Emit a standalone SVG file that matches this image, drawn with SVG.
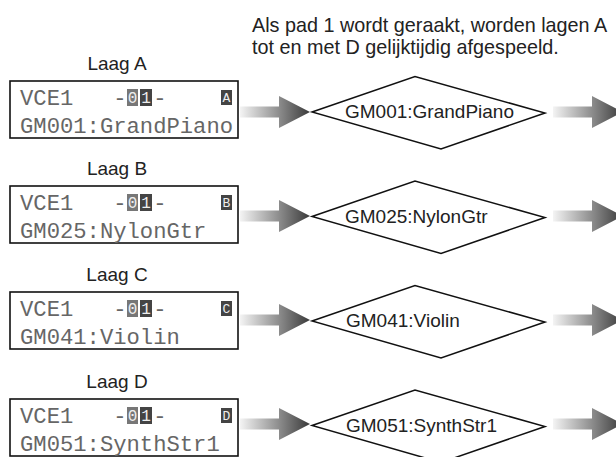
<svg xmlns="http://www.w3.org/2000/svg" xmlns:xlink="http://www.w3.org/1999/xlink" width="616" height="457" viewBox="0 0 616 457">
<style>
.lbl{font-family:"Liberation Sans",Arial,sans-serif;font-size:19px;fill:#222}
.cap{font-family:"Liberation Sans",Arial,sans-serif;font-size:19.8px;fill:#222}
.lcd{font-family:"Liberation Mono","DejaVu Sans Mono",monospace;font-size:22.2px;fill:#666}
.inv{font-family:"Liberation Mono","DejaVu Sans Mono",monospace;font-size:16px;fill:#eee;text-anchor:middle}
.sm{font-size:13px}
.box{fill:#fff;stroke:#111;stroke-width:1.6}
.dia{fill:#fff;stroke:#111;stroke-width:1.5;stroke-linejoin:miter}
.blk{fill:#444}
.blk0{fill:#777}
</style>
<defs>
<linearGradient id="g" x1="0" y1="0" x2="1" y2="0">
<stop offset="0" stop-color="#f4f4f4"/>
<stop offset="0.55" stop-color="#8e8e8e"/>
<stop offset="1" stop-color="#3a3a3a"/>
</linearGradient>
<path id="arr" d="M0,-5.5 H39 V-16 L70,0 L39,16 V5.5 H0 Z" fill="url(#g)"/>
</defs>
<rect width="616" height="457" fill="#fff"/>
<g id="caption">
<text class="cap" x="252" y="32">Als pad 1 wordt geraakt, worden lagen A</text>
<text class="cap" x="252" y="54">tot en met D gelijktijdig afgespeeld.</text>
</g>
<g id="connectors">
<use xlink:href="#arr" transform="translate(240,112)"/>
<use xlink:href="#arr" transform="translate(240,216)"/>
<use xlink:href="#arr" transform="translate(240,320)"/>
<use xlink:href="#arr" transform="translate(240,424)"/>
<use xlink:href="#arr" transform="translate(553,112)"/>
<use xlink:href="#arr" transform="translate(553,216)"/>
<use xlink:href="#arr" transform="translate(553,320)"/>
<use xlink:href="#arr" transform="translate(553,424)"/>
</g>
<g id="layer-a">
<text class="lbl" x="117" y="70" text-anchor="middle">Laag A</text>
<rect class="box" x="10" y="81" width="228" height="57"/>
<text class="lcd" x="20" y="105">VCE1</text>
<text class="lcd" x="113.2" y="105">-</text>
<text class="lcd" x="153.2" y="105">-</text>
<rect class="blk0" x="127" y="89" width="11" height="17"/>
<text class="inv" x="132.5" y="103">0</text>
<rect class="blk" x="140" y="89" width="12" height="17"/>
<text class="inv" x="146" y="103">1</text>
<rect class="blk" x="221" y="90" width="11" height="15"/>
<text class="inv sm" x="226.5" y="102">A</text>
<text class="lcd" x="20" y="133">GM001:GrandPiano</text>
</g>
<g id="layer-b">
<text class="lbl" x="117" y="175" text-anchor="middle">Laag B</text>
<rect class="box" x="10" y="186" width="228" height="57"/>
<text class="lcd" x="20" y="210">VCE1</text>
<text class="lcd" x="113.2" y="210">-</text>
<text class="lcd" x="153.2" y="210">-</text>
<rect class="blk0" x="127" y="194" width="11" height="17"/>
<text class="inv" x="132.5" y="208">0</text>
<rect class="blk" x="140" y="194" width="12" height="17"/>
<text class="inv" x="146" y="208">1</text>
<rect class="blk" x="221" y="195" width="11" height="15"/>
<text class="inv sm" x="226.5" y="207">B</text>
<text class="lcd" x="20" y="238">GM025:NylonGtr</text>
</g>
<g id="layer-c">
<text class="lbl" x="117" y="281" text-anchor="middle">Laag C</text>
<rect class="box" x="10" y="292" width="228" height="57"/>
<text class="lcd" x="20" y="316">VCE1</text>
<text class="lcd" x="113.2" y="316">-</text>
<text class="lcd" x="153.2" y="316">-</text>
<rect class="blk0" x="127" y="300" width="11" height="17"/>
<text class="inv" x="132.5" y="314">0</text>
<rect class="blk" x="140" y="300" width="12" height="17"/>
<text class="inv" x="146" y="314">1</text>
<rect class="blk" x="221" y="301" width="11" height="15"/>
<text class="inv sm" x="226.5" y="313">C</text>
<text class="lcd" x="20" y="344">GM041:Violin</text>
</g>
<g id="layer-d">
<text class="lbl" x="117" y="388" text-anchor="middle">Laag D</text>
<rect class="box" x="10" y="399" width="228" height="57"/>
<text class="lcd" x="20" y="423">VCE1</text>
<text class="lcd" x="113.2" y="423">-</text>
<text class="lcd" x="153.2" y="423">-</text>
<rect class="blk0" x="127" y="407" width="11" height="17"/>
<text class="inv" x="132.5" y="421">0</text>
<rect class="blk" x="140" y="407" width="12" height="17"/>
<text class="inv" x="146" y="421">1</text>
<rect class="blk" x="221" y="408" width="11" height="15"/>
<text class="inv sm" x="226.5" y="420">D</text>
<text class="lcd" x="20" y="451">GM051:SynthStr1</text>
</g>
<g id="voice-a">
<polygon class="dia" points="312,112 415,76.5 545,113 441,149"/>
<text class="lbl" x="345" y="118">GM001:GrandPiano</text>
</g>
<g id="voice-b">
<polygon class="dia" points="312,216.5 415,181 545,217.5 441,253.5"/>
<text class="lbl" x="345" y="222.5">GM025:NylonGtr</text>
</g>
<g id="voice-c">
<polygon class="dia" points="312,321 415,285.5 545,322 441,358"/>
<text class="lbl" x="346" y="327">GM041:Violin</text>
</g>
<g id="voice-d">
<polygon class="dia" points="312,425.5 415,390 545,426.5 441,462.5"/>
<text class="lbl" x="346" y="431.5">GM051:SynthStr1</text>
</g>
</svg>
